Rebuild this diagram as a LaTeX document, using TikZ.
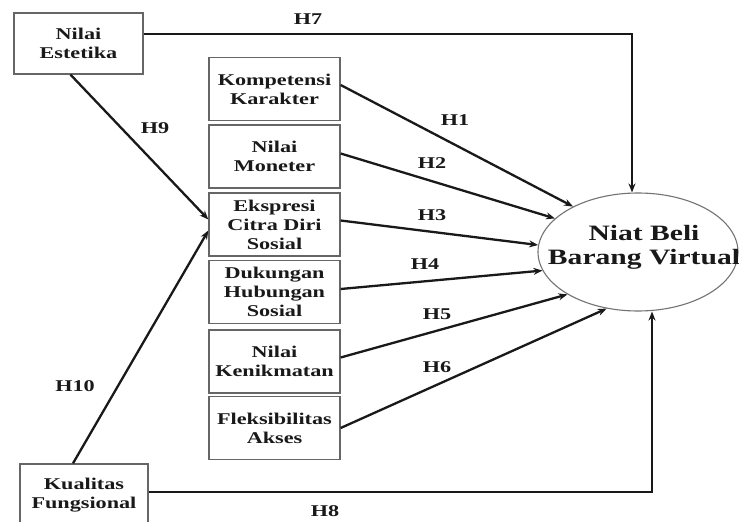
\documentclass[tikz,border=0pt]{standalone}
\usepackage{fontspec}
\setmainfont{Liberation Serif}[FakeStretch=1.35]
\usetikzlibrary{shapes.geometric,arrows.meta}
\begin{document}
\begin{tikzpicture}[x=1bp,y=-1bp,
  box/.style={draw=black!60,line width=1.3bp,rectangle,inner sep=0pt,
    minimum width=131bp,minimum height=63bp,align=center,
    font=\fontsize{16.5}{19}\selectfont\bfseries,text=black!90},
  lbl/.style={font=\fontsize{16.5}{19}\selectfont\bfseries,text=black!90,inner sep=0pt},
  arr/.style={line width=2.3bp,draw=black!90,-{Stealth[length=9bp,width=7bp]}},
  ln/.style={line width=2.3bp,draw=black!90}]
\useasboundingbox (0,0) rectangle (739,522);
\clip (0,0) rectangle (739,522);
\fill[white] (0,0) rectangle (739,522);
% nodes
\node[box,minimum width=129bp,minimum height=61bp] (ne) at (78.5,43.5) {Nilai\\Estetika};
\node[box,minimum width=128bp,minimum height=62bp] (kf) at (84,495) {Kualitas\\Fungsional};
\node[box] (k1) at (274.5,89) {Kompetensi\\Karakter};
\node[box] (k2) at (274.5,156.5) {Nilai\\Moneter};
\node[box] (k3) at (274.5,224.5) {Ekspresi\\Citra Diri\\Sosial};
\node[box] (k4) at (274.5,292) {Dukungan\\Hubungan\\Sosial};
\node[box] (k5) at (274.5,361.5) {Nilai\\Kenikmatan};
\node[box] (k6) at (274.5,428) {Fleksibilitas\\Akses};
\node[ellipse,draw=black!55,line width=1.1bp,minimum width=200bp,minimum height=118bp,inner sep=0pt] (ell) at (638,252) {};
\node[align=center,inner sep=0pt,font=\fontsize{22}{24}\selectfont\bfseries,text=black!90] (elltxt) at (644,247) {Niat Beli\\Barang Virtual};
% coordinates
\coordinate (h7) at (632,34);
\coordinate (h8) at (652,492);
% connectors
\draw[arr] ([yshift=4bp]k1.east) -- (ell.145);
\draw[arr] ([yshift=3bp]k2.east) -- (ell.158);
\draw[arr] ([yshift=4bp]k3.east) -- (ell.176);
\draw[arr] ([yshift=3bp]k4.east) -- (ell.191);
\draw[arr] ([yshift=4bp]k5.east) -- (ell.211);
\draw[arr] (k6.east) -- (ell.241);
\draw[arr] (ne.east |- h7) -- (h7) -- (h7 |- ell.north);
\draw[arr] (kf.east |- h8) -- (h8) -- (h8 |- ell.south);
\draw[arr] ([xshift=-8bp]ne.south) -- ([yshift=5bp]k3.west);
\draw[arr] ([xshift=-11bp]kf.north) -- ([yshift=-6bp]k3.west);
% labels
\node[lbl] (l7) at (308,19) {H7};
\node[lbl] (l9) at (155,128) {H9};
\node[lbl] (l1) at (455,120) {H1};
\node[lbl] (l2) at (432,163) {H2};
\node[lbl] (l3) at (432,215) {H3};
\node[lbl] (l4) at (425,264) {H4};
\node[lbl] (l5) at (437,314) {H5};
\node[lbl] (l6) at (437,367) {H6};
\node[lbl] (l10) at (75,386) {H10};
\node[lbl] (l8) at (325,511) {H8};
\end{tikzpicture}
\end{document}
